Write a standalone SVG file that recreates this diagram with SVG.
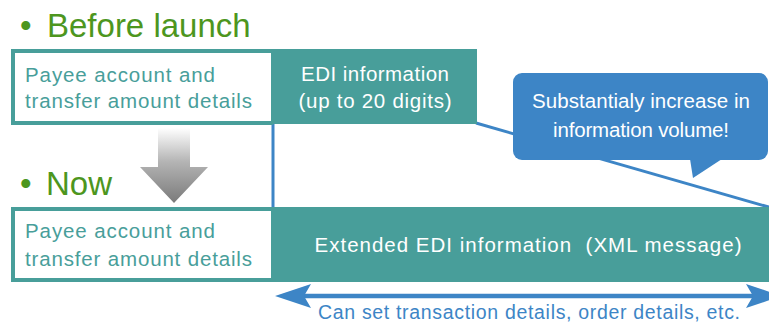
<svg xmlns="http://www.w3.org/2000/svg" width="769" height="324" viewBox="0 0 769 324">
<defs>
<linearGradient id="gray" x1="0" y1="0" x2="0" y2="1">
<stop offset="0" stop-color="#ffffff"/>
<stop offset="0.45" stop-color="#b4b4b4"/>
<stop offset="1" stop-color="#7a7a7a"/>
</linearGradient>
<style>
text{font-family:"Liberation Sans",Arial,sans-serif;}
.title{font-size:33px;fill:#4d961e;}
.teal{fill:#489e9a;}
.white{fill:#ffffff;}
.tl{font-size:20.5px;fill:#489e9a;}
.wt{font-size:20.5px;fill:#ffffff;text-anchor:middle;}
.bl{stroke:#3d85c6;stroke-width:3;fill:none;}
</style>
</defs>
<rect width="769" height="324" fill="#ffffff"/>

<g id="connectors">
<line class="bl" x1="273" y1="124" x2="273" y2="208"/>
<line class="bl" x1="476" y1="123" x2="772" y2="208"/>
<line stroke="#3d85c6" stroke-width="4.5" x1="300" y1="296" x2="760" y2="296"/>
<polygon fill="#3d85c6" points="275,296 311,284 304,296 311,308"/>
<polygon fill="#3d85c6" points="782,296 746,284 753,296 746,308"/>
<polygon id="gray-arrow" fill="url(#gray)" points="158,128 190,128 190,167 208,167 174,203 140,167 158,167"/>
</g>

<g id="before-title">
<text class="title" x="20" y="37">•<tspan x="47">Before launch</tspan></text>
</g>

<g id="before-payee">
<rect class="teal" x="11" y="49" width="262" height="76"/>
<rect class="white" x="15" y="53" width="256" height="68"/>
<text class="tl" x="25" y="82" textLength="190" lengthAdjust="spacing">Payee account and</text>
<text class="tl" x="25" y="108" textLength="227" lengthAdjust="spacing">transfer amount details</text>
</g>

<g id="before-edi">
<rect class="teal" x="271" y="49" width="206" height="75"/>
<text class="wt" x="375" y="81" textLength="148" lengthAdjust="spacing">EDI information</text>
<text class="wt" x="375" y="108" textLength="153" lengthAdjust="spacing">(up to 20 digits)</text>
</g>

<g id="callout">
<rect x="513" y="73" width="255" height="87" rx="9" fill="#3d85c6"/>
<polygon points="690,159 722,159 693,178" fill="#3d85c6"/>
<text class="wt" x="641" y="108" textLength="218" lengthAdjust="spacing">Substantialy increase in</text>
<text class="wt" x="641" y="137" textLength="176" lengthAdjust="spacing">information volume!</text>
</g>

<g id="now-title">
<text class="title" x="20" y="195">•<tspan x="46">Now</tspan></text>
</g>

<g id="now-payee">
<rect class="teal" x="11" y="207" width="262" height="75"/>
<rect class="white" x="15" y="211" width="256" height="67"/>
<text class="tl" x="25" y="238" textLength="190" lengthAdjust="spacing">Payee account and</text>
<text class="tl" x="25" y="266" textLength="227" lengthAdjust="spacing">transfer amount details</text>
</g>

<g id="now-edi">
<rect class="teal" x="271" y="207" width="498" height="75"/>
<text class="wt" x="528" y="252" textLength="427" lengthAdjust="spacing" xml:space="preserve">Extended EDI information  (XML message)</text>
</g>

<g id="range-label">
<text x="529" y="319" font-size="19.5" fill="#3d85c6" text-anchor="middle" textLength="422" lengthAdjust="spacing">Can set transaction details, order details, etc.</text>
</g>
</svg>
